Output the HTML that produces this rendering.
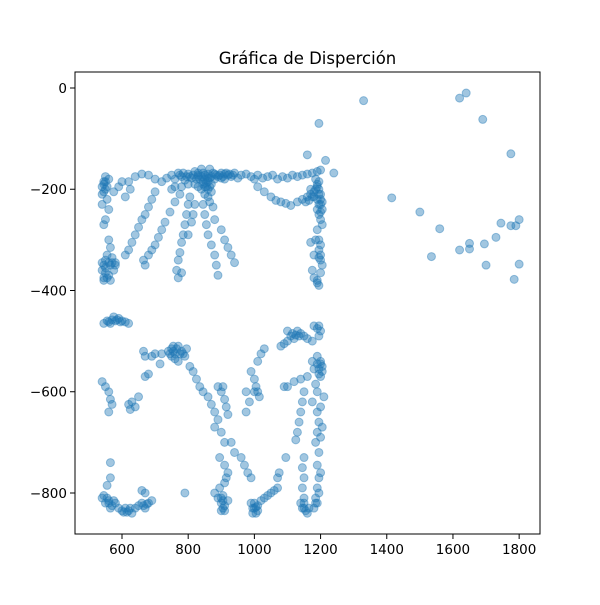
<!DOCTYPE html>
<html><head><meta charset="utf-8"><style>
html,body{margin:0;padding:0;background:#fff;}
svg text{font-family:"DejaVu Sans","Liberation Sans",sans-serif;fill:#000;}
</style></head><body>
<svg id="chart" width="600" height="600" viewBox="0 0 600 600" xmlns="http://www.w3.org/2000/svg">
<rect width="600" height="600" fill="#fff"/>
<text x="307.5" y="64" font-size="16.5" text-anchor="middle">Gráfica de Disperción</text>
<g id="points"></g>
<g id="xaxis"></g>
<g id="yaxis"></g>
<rect x="75" y="72" width="465" height="462" fill="none" stroke="#000" stroke-width="1"/>
</svg>
<script>
const xTicks=[600,800,1000,1200,1400,1600,1800];
const yTicks=[0,-200,-400,-600,-800];
const pointsX=[];const pointsY=[];
const rawPoints=[
[1330,-25],[1620,-20],[1640,-10],[1690,-62],[1195,-70],[1775,-130],[1415,-217],[1500,-245],[1560,-278],[1535,-333],[1620,-320],[1650,-307],[1650,-318],[1695,-308],[1730,-295],[1745,-267],[1775,-272],[1790,-272],[1800,-260],[1700,-350],[1785,-378],[1800,-348],[1240,-168],[1215,-143],[1160,-132],
[720,-185],[735,-178],[750,-172],[760,-180],[770,-168],[780,-175],[790,-182],[800,-170],[810,-178],[820,-165],[830,-175],[840,-160],[845,-185],[850,-172],[860,-178],[865,-160],[870,-190],[880,-170],[890,-175],[900,-168],[910,-180],[920,-172],[930,-175],[940,-168],[950,-178],[960,-172],[975,-170],[990,-175],[1000,-180],[1010,-172],[1025,-178],[1040,-175],[1055,-172],[1070,-180],[1085,-175],[1100,-178],[1115,-172],[1130,-175],[1145,-172],[1160,-170],[1175,-168],[1190,-165],[1200,-162],
[840,-200],[850,-210],[855,-195],[860,-215],[865,-225],[845,-190],[830,-195],[870,-205],[820,-190],[800,-190],[780,-195],[760,-195],[750,-200],[850,-180],[860,-170],[870,-175],[880,-180],[840,-175],[830,-168],[900,-178],[910,-170],
[1010,-195],[1030,-205],[1050,-215],[1065,-222],[1080,-225],[1095,-228],[1110,-232],[1130,-225],[1145,-220],[1160,-215],[1170,-210],
[1185,-180],[1190,-190],[1195,-200],[1200,-210],[1190,-220],[1200,-230],[1205,-240],[1195,-250],[1200,-260],[1205,-270],[1190,-280],[1195,-300],[1200,-310],[1195,-320],[1185,-300],[1180,-330],[1170,-305],[1175,-360],[1180,-375],[1190,-380],[1195,-390],[1200,-365],[1200,-340],[1205,-350],[1180,-215],[1170,-200],[1185,-200],[1195,-185],
[540,-195],[550,-185],[560,-180],[545,-205],[555,-220],[540,-230],[560,-240],[550,-260],[545,-270],[575,-205],[590,-195],[600,-185],[620,-185],[640,-175],[660,-170],[680,-172],[700,-180],[610,-215],[625,-200],[560,-300],[565,-315],[550,-175],[545,-190],
[540,-345],[550,-355],[545,-375],[560,-370],[575,-360],[580,-345],[570,-335],[555,-330],[545,-380],[565,-380],[580,-350],[560,-345],
[700,-205],[690,-220],[680,-235],[670,-250],[660,-260],[650,-275],[640,-290],[630,-305],[620,-320],[610,-330],
[775,-210],[760,-225],[745,-245],[730,-265],[720,-280],[710,-295],[700,-310],[690,-320],[680,-330],[665,-340],[670,-350],
[805,-215],[800,-230],[795,-250],[790,-270],[785,-290],[780,-305],[775,-325],[770,-340],[765,-360],[770,-375],[780,-365],
[845,-230],[850,-250],[855,-270],[860,-290],[870,-310],[880,-330],[885,-350],[890,-370],
[875,-235],[880,-260],[900,-280],[910,-300],[920,-315],[930,-330],[940,-345],[820,-230],[815,-250],[810,-265],[800,-290],
[545,-465],[560,-462],[570,-458],[580,-460],[590,-455],[600,-460],[610,-462],[620,-465],[575,-452],
[740,-520],[750,-515],[760,-525],[770,-510],[780,-520],[790,-530],[760,-535],[750,-530],[770,-540],[795,-515],
[665,-520],[670,-530],[690,-530],[700,-525],[720,-525],[715,-545],
[805,-550],[815,-560],[825,-575],[835,-590],[845,-600],[860,-610],[870,-625],[880,-640],[890,-655],[880,-670],[900,-600],[910,-615],[915,-630],[920,-645],[900,-680],[910,-700],[930,-700],[940,-720],[960,-730],[970,-745],[980,-760],[990,-770],[890,-590],[905,-590],
[540,-580],[550,-590],[560,-600],[565,-615],[570,-625],[560,-640],[620,-625],[630,-620],[640,-630],[625,-635],[650,-610],[670,-570],[680,-565],
[1100,-480],[1110,-490],[1120,-495],[1130,-480],[1140,-485],[1160,-495],[1100,-500],[1090,-505],[1080,-510],[1180,-470],[1190,-475],[1200,-480],[1195,-490],[1175,-500],[1190,-530],[1200,-545],[1205,-560],[1180,-555],[1195,-565],[1175,-540],[1185,-585],[1190,-600],[1175,-620],
[990,-560],[1000,-575],[1005,-590],[1010,-600],[1015,-610],[1000,-600],[975,-600],[975,-640],[985,-620],[1010,-540],[1020,-525],[1030,-515],
[1160,-570],[1140,-575],[1120,-580],[1100,-590],[1090,-590],
[1150,-600],[1145,-620],[1140,-640],[1135,-660],[1130,-680],[1125,-695],
[1190,-640],[1195,-660],[1190,-680],[1185,-700],[1195,-720],[1200,-690],[1205,-670],[1200,-630],[1210,-610],
[540,-810],[550,-820],[545,-805],[560,-815],[570,-825],[580,-820],[590,-830],[600,-835],[610,-830],[620,-835],[630,-840],[640,-830],[650,-825],[660,-820],[670,-830],[680,-820],[690,-815],[670,-800],[660,-795],[555,-785],[565,-740],[565,-770],
[790,-800],
[880,-800],[890,-810],[900,-820],[905,-830],[910,-835],[895,-790],[910,-780],[915,-770],[920,-760],[910,-745],[895,-730],[920,-815],[905,-805],
[990,-820],[1000,-830],[1005,-840],[1010,-825],[1020,-815],[1030,-810],[1040,-805],[1050,-800],[1060,-795],[1070,-790],[1070,-770],[1075,-760],[995,-840],
[1140,-820],[1150,-830],[1160,-840],[1150,-810],[1145,-790],[1150,-770],[1145,-750],[1150,-730],[1185,-810],[1190,-790],[1195,-770],[1200,-760],[1190,-820],[1180,-830],[1095,-730],[1190,-745],
[830,-172],[835,-180],[845,-168],[855,-175],[860,-185],[865,-178],[875,-168],[885,-172],[895,-172],[905,-175],[915,-168],[925,-170],[935,-172],[855,-188],[860,-200],[865,-195],[850,-195],[775,-172],[785,-168],[795,-175],[805,-175],[815,-172],[825,-180],
[1190,-195],[1195,-210],[1200,-220],[1205,-225],[1195,-230],[1190,-240],[1200,-245],[1180,-205],[1175,-215],[1165,-222],[1155,-225],[1200,-330],[1195,-335],[1190,-385],
[545,-185],[555,-195],[550,-200],[540,-210],[545,-350],[550,-365],[555,-375],[565,-350],[570,-345],[540,-360],[550,-340],
[555,-460],[565,-465],[585,-458],[595,-462],[745,-525],[755,-520],[765,-515],[775,-525],[785,-525],[755,-510],
[1115,-485],[1125,-488],[1135,-490],[1150,-490],[1195,-470],[1200,-540],[1205,-550],[1195,-555],[1190,-545],[1200,-570],
[560,-820],[555,-810],[565,-830],[575,-815],[605,-838],[615,-838],[625,-830],[665,-825],[675,-822],
[900,-810],[905,-815],[910,-825],[900,-835],[1000,-820],[1005,-828],[995,-830],[1010,-835],
[1150,-820],[1155,-835],[1145,-830],[1165,-830],[1195,-800],[1185,-820]
];
rawPoints.forEach(p=>{pointsX.push(p[0]);pointsY.push(p[1]);});
const NS="http://www.w3.org/2000/svg";
const X0=75,X1=540,Y0=72,Y1=534;
const xMin=458,xMax=1863,yMin=-881,yMax=31.6;
function sx(v){return X0+(v-xMin)/(xMax-xMin)*(X1-X0);}
function sy(v){return Y1-(v-yMin)/(yMax-yMin)*(Y1-Y0);}
const pg=document.getElementById('points');
for(let i=0;i<pointsX.length;i++){
  const c=document.createElementNS(NS,'circle');
  c.setAttribute('cx',sx(pointsX[i]));c.setAttribute('cy',sy(pointsY[i]));
  c.setAttribute('r',4);c.setAttribute('fill','#1f77b4');c.setAttribute('fill-opacity','0.42');
  c.setAttribute('stroke','#1f77b4');c.setAttribute('stroke-opacity','0.42');c.setAttribute('stroke-width','1');
  
  
  pg.appendChild(c);
}
const xg=document.getElementById('xaxis');
xTicks.forEach(t=>{
  const x=sx(t);
  const l=document.createElementNS(NS,'line');
  l.setAttribute('x1',x);l.setAttribute('x2',x);l.setAttribute('y1',Y1);l.setAttribute('y2',Y1+5);l.setAttribute('stroke','#000');
  
  
  xg.appendChild(l);
  const tx=document.createElementNS(NS,'text');
  tx.setAttribute('x',x);tx.setAttribute('y',Y1+20);tx.setAttribute('font-size','13.5');tx.setAttribute('text-anchor','middle');
  tx.textContent=t;
  
  
  xg.appendChild(tx);
});
const yg=document.getElementById('yaxis');
yTicks.forEach(t=>{
  const y=sy(t);
  const l=document.createElementNS(NS,'line');
  l.setAttribute('x1',X0-5);l.setAttribute('x2',X0);l.setAttribute('y1',y);l.setAttribute('y2',y);l.setAttribute('stroke','#000');
  
  
  yg.appendChild(l);
  const tx=document.createElementNS(NS,'text');
  tx.setAttribute('x',X0-8);tx.setAttribute('y',y+5);tx.setAttribute('font-size','13.5');tx.setAttribute('text-anchor','end');
  tx.textContent=t<0?'\u2212'+Math.abs(t):String(t);
  
  
  yg.appendChild(tx);
});
</script>
</body></html>
